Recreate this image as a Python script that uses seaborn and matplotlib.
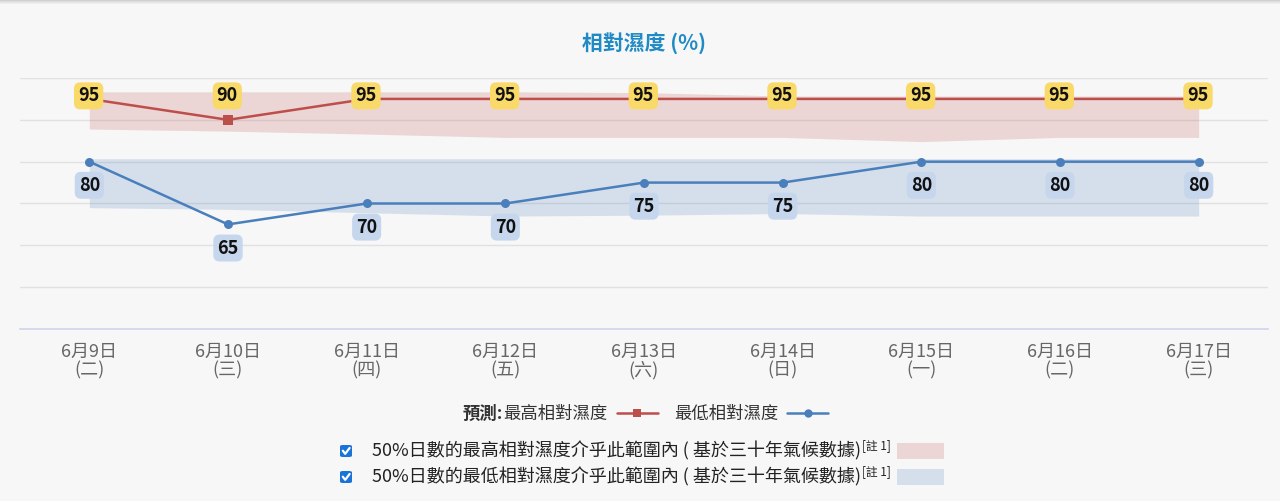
import numpy as np
import pandas as pd
import matplotlib
matplotlib.use('Agg')
import matplotlib.pyplot as plt
import seaborn as sns
from matplotlib.lines import Line2D
from matplotlib.patches import Rectangle, FancyBboxPatch

# ---------------- data ----------------
dates = ['6月9日', '6月10日', '6月11日', '6月12日', '6月13日', '6月14日', '6月15日', '6月16日', '6月17日']
weekdays = ['(二)', '(三)', '(四)', '(五)', '(六)', '(日)', '(一)', '(二)', '(三)']
max_rh = [95, 90, 95, 95, 95, 95, 95, 95, 95]
min_rh = [80, 65, 70, 70, 75, 75, 80, 80, 80]
max_band_hi = [96.7, 96.7, 96.7, 96.7, 96.5, 95.7, 95.7, 95.7, 95.7]
max_band_lo = [87.8, 87.3, 86.6, 85.8, 85.8, 85.8, 84.8, 85.8, 85.8]
min_band_hi = [80.7, 80.7, 80.7, 80.7, 80.7, 80.7, 80.7, 80.7, 80.7]
min_band_lo = [69.0, 68.6, 67.8, 67.0, 67.2, 67.6, 67.0, 67.0, 67.0]
y_ticks = [40, 50, 60, 70, 80, 90, 100]

title = '相對濕度 (%)'
label_max = '最高相對濕度'
label_min = '最低相對濕度'
band_texts = ['50%日數的最高相對濕度介乎此範圍內 ( 基於三十年氣候數據)',
              '50%日數的最低相對濕度介乎此範圍內 ( 基於三十年氣候數據)']

RED = '#bd4f4b'
BLUE = '#4a7fbc'
BG = '#f7f7f7'

sns.set_theme(style='white')
plt.rcParams['font.family'] = ['Noto Sans CJK TC', 'DejaVu Sans']

W, H = 1280, 501
fig = plt.figure(figsize=(W / 100, H / 100), dpi=100, facecolor=BG)

# top shadow
for k, c in enumerate(['#cfcfcf', '#dcdcdc', '#e6e6e6', '#eeeeee']):
    fig.add_artist(Rectangle((0, 1 - (k + 1) / H), 1, 1 / H, transform=fig.transFigure,
                             facecolor=c, edgecolor='none'))

ax = fig.add_axes([20 / W, 172 / H, 1248 / W, 251 / H])
ax.set_facecolor(BG)

x = np.arange(len(dates))
ax.fill_between(x, max_band_lo, max_band_hi, color='#c0504d', alpha=0.2, lw=0, zorder=1)
ax.fill_between(x, min_band_lo, min_band_hi, color='#4f81bd', alpha=0.2, lw=0, zorder=1)

df = pd.DataFrame({
    'idx': np.concatenate([x, x]),
    'value': max_rh + min_rh,
    'series': ['max'] * len(max_rh) + ['min'] * len(min_rh),
})
sns.lineplot(data=df, x='idx', y='value', hue='series', style='series',
             markers={'max': 's', 'min': 'o'}, dashes=False,
             palette={'max': RED, 'min': BLUE}, markersize=6.5, markeredgewidth=0,
             linewidth=1.8, legend=False, ax=ax, zorder=3)

ax.set_xlim(-0.5, len(dates) - 0.5)
ax.set_ylim(min(y_ticks), max(y_ticks))
ax.set_yticks(y_ticks)
ax.yaxis.grid(True, color='#e1e1e1', lw=1)
ax.xaxis.grid(False)
ax.set_axisbelow(True)
ax.tick_params(axis='y', left=False, labelleft=False)
ax.tick_params(axis='x', bottom=False, pad=4)
for s in ['top', 'left', 'right']:
    ax.spines[s].set_visible(False)
ax.spines['bottom'].set_color('#ccd6eb')
ax.spines['bottom'].set_linewidth(1.2)
ax.set_xticks(x)
ax.set_xticklabels([f'{d}\n{w}' for d, w in zip(dates, weekdays)], fontsize=13,
                   color='#666666', linespacing=1.0)
ax.set_xlabel('')
ax.set_ylabel('')

# data labels
top_y = max(max_rh)
for i, v in enumerate(max_rh):
    ax.annotate(str(v), xy=(i, top_y), xytext=(-0.5, 2.2), textcoords='offset points',
                ha='center', va='center', fontsize=13, fontweight='bold', color='#111111',
                bbox=dict(boxstyle='round,pad=0.22,rounding_size=0.35', fc='#f9d967', ec='none'),
                zorder=6)
for i, v in enumerate(min_rh):
    ax.annotate(str(v), xy=(i, v), xytext=(0, -17), textcoords='offset points',
                ha='center', va='center', fontsize=13, fontweight='bold', color='#111111',
                bbox=dict(boxstyle='round,pad=0.22,rounding_size=0.35', fc='#c6d6ec', ec='none'),
                zorder=6)

# title
fig.text(644 / W, 1 - 44 / H, title, ha='center', va='center', fontsize=15,
         fontweight='bold', color='#1f8ac4')

# legend (series)
fig.text(503 / W, 1 - 414 / H, '預測:', ha='right', va='center', fontsize=12.5,
         fontweight='bold', color='#333333')
handles = [Line2D([], [], color=RED, marker='s', markersize=6, lw=1.8, markeredgewidth=0),
           Line2D([], [], color=BLUE, marker='o', markersize=6, lw=1.8, markeredgewidth=0)]
leg = fig.legend(handles, [label_max, label_min], loc='center',
                 bbox_to_anchor=(666 / W, 1 - 414 / H), ncol=2, markerfirst=False,
                 frameon=False, fontsize=12.5, handlelength=2.4, handletextpad=0.5,
                 columnspacing=0.9, borderpad=0)
for t in leg.get_texts():
    t.set_color('#333333')

# band legend rows
band_colors = [('#c0504d', 0.2), ('#4f81bd', 0.2)]
row_y = [451, 477]
fig.canvas.draw()
renderer = fig.canvas.get_renderer()
for txt, (bc, ba), ry in zip(band_texts, band_colors, row_y):
    yc = 1 - ry / H
    # checkbox
    fig.add_artist(FancyBboxPatch((340 / W, yc - 6 / H), 12 / W, 12 / H,
                                  boxstyle='round,pad=0,rounding_size=0.0025',
                                  transform=fig.transFigure, facecolor='#1a73d9',
                                  edgecolor='none'))
    fig.add_artist(Line2D([342.8 / W, 345.2 / W, 349.6 / W],
                          [yc + 0.3 / H, yc - 2.8 / H, yc + 3.0 / H],
                          transform=fig.transFigure, color='white', lw=1.6))
    t = fig.text(372 / W, yc, txt, ha='left', va='center', fontsize=13, color='#222222')
    bb = t.get_window_extent(renderer)
    fig.text(bb.x1 / W + 1 / W, yc + 5 / H, '[註 1]', ha='left', va='center',
             fontsize=8.5, color='#222222')
    fig.add_artist(Rectangle((897 / W, yc - 8 / H), 47 / W, 16 / H,
                             transform=fig.transFigure, facecolor=bc, alpha=ba,
                             edgecolor='none'))

fig.savefig('out.png', dpi=100, facecolor=BG)
